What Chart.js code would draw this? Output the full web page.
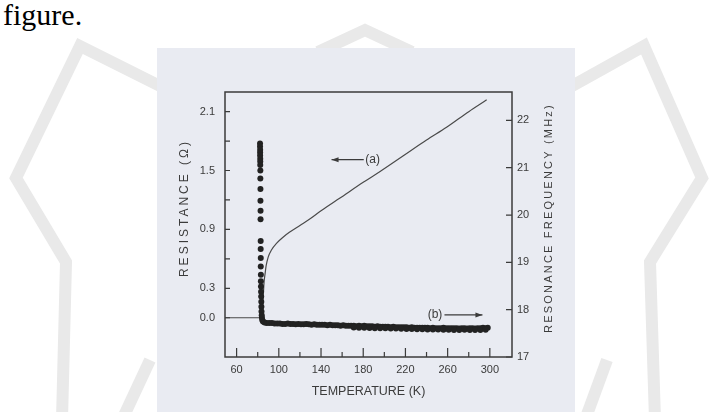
<!DOCTYPE html>
<html>
<head>
<meta charset="utf-8">
<script src="https://cdn.jsdelivr.net/npm/chart.js@4.4.1/dist/chart.umd.min.js"></script>
<style>
  html, body { margin: 0; padding: 0; background: #fff; }
  #page { position: relative; width: 716px; height: 412px; overflow: hidden; }
  #mark { position: absolute; left: 0; top: 0; }
  #panel { position: absolute; left: 157px; top: 48px; width: 418px; height: 364px; background: #e9ebf2; }
  #caption { position: absolute; left: 3px; top: 0; font: 30px/30px "Liberation Serif", "Times New Roman", serif; color: #000; }
  #chart { position: absolute; left: 0; top: 0; }
</style>
</head>
<body>
<div id="page">
  <svg id="mark" width="716" height="412">
    <g fill="none" stroke="#e9e9e9" stroke-width="12" stroke-linejoin="miter">
      <polyline points="160,86 80,46 16,178 66,262 62,420"/>
      <polyline points="572,86 644,46 702,178 650,262 655,420"/>
      <polyline points="318,52 365,30 412,52"/>
      <polyline points="122,420 150,360"/>
      <polyline points="585,420 607,360"/>
    </g>
  </svg>
  <div id="panel"></div>
  <div id="caption">figure.</div>
  <canvas id="chart" width="716" height="412"></canvas>
</div>
<script>
// axes
var xTicks = [60, 80, 100, 120, 140, 160, 180, 200, 220, 240, 260, 280, 300];
var xLabels = [60, 100, 140, 180, 220, 260, 300];
var resTicks = [0.0, 0.3, 0.6, 0.9, 1.2, 1.5, 1.8, 2.1];
var resLabels = [0.0, 0.3, 0.9, 1.5, 2.1];
var freqTicks = [17, 18, 19, 20, 21, 22];

// (a) resistance, left axis
var tempA = [49, 84.5, 85.2, 86, 87, 88, 90, 93, 98, 104, 110, 120, 130, 140, 158, 180, 196, 218, 240, 259, 280, 297];
var resA = [0, 0, 0.2, 0.36, 0.45, 0.53, 0.62, 0.69, 0.76, 0.82, 0.87, 0.94, 1.01, 1.09, 1.22, 1.38, 1.49, 1.65, 1.81, 1.94, 2.10, 2.22];

// (b) resonance frequency, right axis: the steep drop near Tc ...
var colT = [82.2, 82.2, 82.3, 82.3, 82.3, 82.4, 82.4, 82.4, 82.5, 82.5, 82.6, 82.6, 82.7, 82.7,
            82.8, 82.8, 82.9, 82.9, 83.0, 83.0, 83.1, 83.2, 83.3, 83.4, 83.5, 83.6, 83.8, 84.0,
            84.3, 85.0, 86.5, 88.5];
var colF = [21.51, 21.45, 21.38, 21.32, 21.26, 21.19, 21.13, 21.06, 20.94, 20.77, 20.55, 20.30, 20.09, 19.91,
            19.45, 19.28, 19.09, 18.91, 18.74, 18.60, 18.49, 18.38, 18.28, 18.17, 18.06, 17.96, 17.88, 17.83,
            17.78, 17.75, 17.73, 17.72];
// ... the flat part above Tc ...
var bandT = [91, 93.5, 96, 98.5, 101, 103.5, 106, 108.5, 111, 113.5,
             116, 118.5, 121, 123.5, 126, 128.5, 131, 133.5, 136, 138.5,
             141, 143.5, 146, 148.5, 151, 153.5, 156, 158.5, 161, 163.5,
             166, 168.5, 171, 173.5, 176, 178.5, 181, 183.5, 186, 188.5,
             191, 193.5, 196, 198.5, 201, 203.5, 206, 208.5, 211, 213.5,
             216, 218.5, 221, 223.5, 226, 228.5, 231, 233.5, 236, 238.5,
             241, 243.5, 246, 248.5, 251, 253.5, 256, 258.5, 261, 263.5,
             266, 268.5, 271, 273.5, 276, 278.5, 281, 283.5, 286, 288.5,
             291, 293.5, 296, 298];
var bandF = [17.72, 17.72, 17.71, 17.71, 17.71, 17.70, 17.70, 17.71, 17.70, 17.70,
             17.69, 17.70, 17.69, 17.69, 17.70, 17.69, 17.68, 17.69, 17.68, 17.68,
             17.68, 17.68, 17.67, 17.68, 17.67, 17.67, 17.67, 17.66, 17.67, 17.66,
             17.66, 17.66, 17.66, 17.65, 17.66, 17.65, 17.66, 17.65, 17.65, 17.65,
             17.64, 17.65, 17.64, 17.64, 17.64, 17.64, 17.63, 17.64, 17.63, 17.63,
             17.63, 17.63, 17.63, 17.62, 17.63, 17.62, 17.62, 17.62, 17.62, 17.62,
             17.62, 17.61, 17.62, 17.61, 17.61, 17.61, 17.62, 17.61, 17.61, 17.61,
             17.61, 17.61, 17.60, 17.61, 17.61, 17.60, 17.61, 17.61, 17.60, 17.61,
             17.61, 17.62, 17.61, 17.62];
// ... and the lower edge of the band at high temperature
var band2T = [171, 176, 181, 186, 191, 196, 201, 206, 211, 216, 221, 226, 231,
              236, 241, 246, 251, 256, 261, 266, 271, 276, 281, 286, 291, 296];
var band2F = [17.625, 17.62, 17.62, 17.615, 17.61, 17.61, 17.605, 17.60, 17.60, 17.595, 17.59, 17.59, 17.585,
              17.585, 17.58, 17.58, 17.58, 17.575, 17.575, 17.57, 17.57, 17.575, 17.57, 17.57, 17.57, 17.575];

var ink = '#3b3b3b';
var sans = '"Liberation Sans", Arial, sans-serif';

function pairs(xs, ys) {
    return xs.map(function (v, i) { return { x: v, y: ys[i] }; });
}

function arrow(ctx, x1, y, x2) {
    var d = x2 > x1 ? 1 : -1;
    ctx.beginPath();
    ctx.moveTo(x1, y);
    ctx.lineTo(x2, y);
    ctx.stroke();
    ctx.beginPath();
    ctx.moveTo(x2, y);
    ctx.lineTo(x2 - d * 7, y - 2.5);
    ctx.lineTo(x2 - d * 7, y + 2.5);
    ctx.closePath();
    ctx.fill();
}

function spaced(ctx, text, cx, cy, size, spacing) {
    ctx.save();
    ctx.translate(cx, cy);
    ctx.rotate(-Math.PI / 2);
    ctx.font = size + 'px ' + sans;
    ctx.letterSpacing = spacing + 'px';
    ctx.textAlign = 'center';
    ctx.textBaseline = 'middle';
    ctx.fillText(text, 0, 0);
    ctx.restore();
}

var frame = {
    id: 'frame',
    afterDraw: function (chart) {
        var ctx = chart.ctx, a = chart.chartArea;
        var x = chart.scales.x, yR = chart.scales.yR, yF = chart.scales.yF;
        ctx.save();
        ctx.strokeStyle = ink;
        ctx.fillStyle = ink;
        ctx.lineWidth = 1.5;
        ctx.strokeRect(a.left, a.top, a.right - a.left, a.bottom - a.top);

        // inward ticks
        ctx.lineWidth = 1.2;
        ctx.beginPath();
        x.ticks.forEach(function (t) {
            var px = x.getPixelForValue(t.value);
            var len = xLabels.indexOf(t.value) >= 0 ? 9 : 5;
            ctx.moveTo(px, a.bottom);
            ctx.lineTo(px, a.bottom - len);
        });
        yR.ticks.forEach(function (t) {
            var py = yR.getPixelForValue(t.value);
            ctx.moveTo(a.left, py);
            ctx.lineTo(a.left + 5, py);
        });
        yF.ticks.forEach(function (t) {
            var py = yF.getPixelForValue(t.value);
            ctx.moveTo(a.right, py);
            ctx.lineTo(a.right - 6, py);
        });
        ctx.stroke();

        // curve labels
        ctx.font = '12px ' + sans;
        ctx.textBaseline = 'middle';
        var ya = yR.getPixelForValue(1.61);
        arrow(ctx, x.getPixelForValue(180.5), ya, x.getPixelForValue(150));
        ctx.textAlign = 'left';
        ctx.fillText('(a)', x.getPixelForValue(182), ya);
        var yb = yF.getPixelForValue(17.89);
        ctx.textAlign = 'right';
        ctx.fillText('(b)', x.getPixelForValue(255), yb);
        arrow(ctx, x.getPixelForValue(257), yb, x.getPixelForValue(293));

        // axis titles
        spaced(ctx, 'RESISTANCE (\u03A9)', 185, 208, 12, 3);
        spaced(ctx, 'RESONANCE FREQUENCY (MHz)', 549, 218, 11, 2.2);
        ctx.font = '12.5px ' + sans;
        ctx.textAlign = 'center';
        ctx.fillText('TEMPERATURE (K)', (a.left + a.right) / 2, 392);
        ctx.restore();
    }
};

var ctx = document.getElementById('chart').getContext('2d');
var chart = new Chart(ctx, {
    type: 'scatter',
    data: {
        datasets: [{
            label: 'Frequency',
            data: pairs(colT, colF).concat(pairs(bandT, bandF), pairs(band2T, band2F)),
            yAxisID: 'yF',
            pointRadius: 3,
            pointBorderWidth: 0,
            pointBackgroundColor: '#222',
            showLine: false
        }, {
            label: 'Resistance',
            data: pairs(tempA, resA),
            yAxisID: 'yR',
            showLine: true,
            pointRadius: 0,
            borderColor: '#4a4a4a',
            borderWidth: 1.2,
            cubicInterpolationMode: 'monotone'
        }]
    },
    options: {
        responsive: false,
        animation: false,
        layout: { padding: { top: 92, left: 0, right: 0, bottom: 0 } },
        plugins: { legend: { display: false }, tooltip: { enabled: false } },
        scales: {
            x: {
                type: 'linear',
                position: 'bottom',
                min: 49,
                max: 321,
                afterFit: function (s) { s.height = 55; },
                afterBuildTicks: function (s) { s.ticks = xTicks.map(function (v) { return { value: v }; }); },
                ticks: {
                    autoSkip: false,
                    maxRotation: 0,
                    padding: 6,
                    color: ink,
                    font: { family: sans, size: 11 },
                    callback: function (v) { return xLabels.indexOf(v) >= 0 ? String(v) : ''; }
                },
                grid: { display: false, drawTicks: false },
                border: { display: false }
            },
            yR: {
                type: 'linear',
                position: 'left',
                min: -0.4,
                max: 2.3,
                afterFit: function (s) { s.width = 225; },
                afterBuildTicks: function (s) { s.ticks = resTicks.map(function (v) { return { value: v }; }); },
                ticks: {
                    autoSkip: false,
                    padding: 10,
                    color: ink,
                    font: { family: sans, size: 11 },
                    callback: function (v) { return resLabels.indexOf(v) >= 0 ? v.toFixed(1) : ''; }
                },
                grid: { display: false, drawTicks: false },
                border: { display: false }
            },
            yF: {
                type: 'linear',
                position: 'right',
                min: 17,
                max: 22.6,
                afterFit: function (s) { s.width = 204; },
                afterBuildTicks: function (s) { s.ticks = freqTicks.map(function (v) { return { value: v }; }); },
                ticks: {
                    autoSkip: false,
                    padding: 5,
                    color: ink,
                    font: { family: sans, size: 11 },
                    callback: function (v) { return String(v); }
                },
                grid: { display: false, drawTicks: false },
                border: { display: false }
            }
        }
    },
    plugins: [frame]
});
</script>
</body>
</html>
